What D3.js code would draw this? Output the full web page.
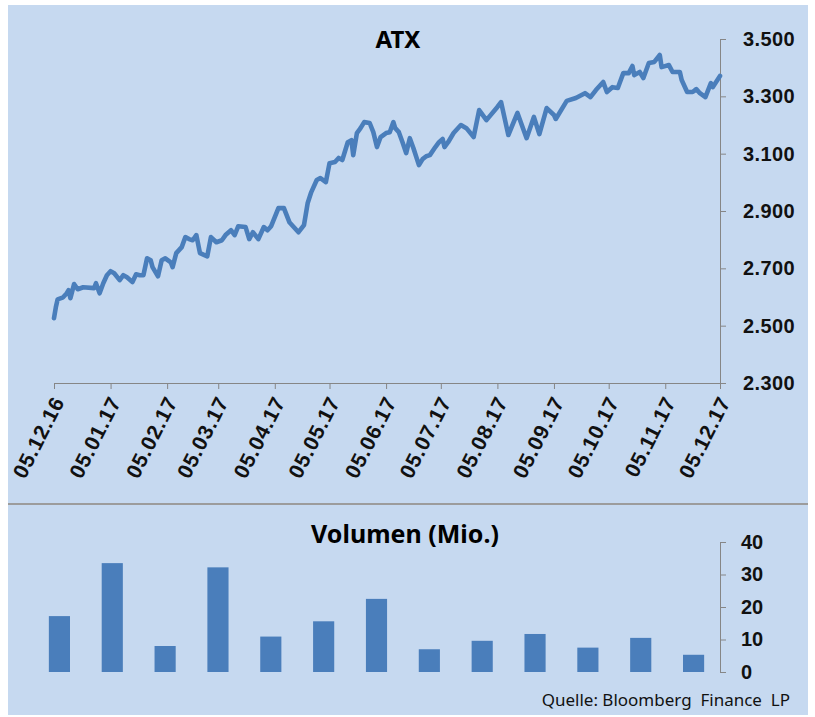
<!DOCTYPE html>
<html>
<head>
<meta charset="utf-8">
<script src="https://cdn.jsdelivr.net/npm/d3@7"></script>
<style>
  html, body { margin: 0; padding: 0; background: #fff; }
  svg { display: block; font-family: "Noto Sans", sans-serif; }
  .axis path, .axis line { stroke: #868686; }
  .axis text { fill: #111; font-weight: bold; }
</style>
</head>
<body>
<div id="chart"></div>
<script>
// ATX daily closes
var atxDates = [
  "2016-12-05","2016-12-06","2016-12-07","2016-12-10","2016-12-12","2016-12-13","2016-12-14","2016-12-16",
  "2016-12-18","2016-12-21","2016-12-27","2016-12-28","2016-12-30","2017-01-01","2017-01-03","2017-01-05",
  "2017-01-07","2017-01-10","2017-01-12","2017-01-14","2017-01-17","2017-01-19","2017-01-21","2017-01-23",
  "2017-01-25","2017-01-27","2017-01-28","2017-01-31","2017-02-02","2017-02-04","2017-02-07","2017-02-08",
  "2017-02-10","2017-02-13","2017-02-15","2017-02-17","2017-02-19","2017-02-21","2017-02-23","2017-02-27",
  "2017-03-01","2017-03-04","2017-03-07","2017-03-09","2017-03-12","2017-03-14","2017-03-16","2017-03-20",
  "2017-03-22","2017-03-24","2017-03-27","2017-03-30","2017-04-01","2017-04-03","2017-04-07","2017-04-10",
  "2017-04-13","2017-04-18","2017-04-21","2017-04-23","2017-04-25","2017-04-28","2017-04-30","2017-05-03",
  "2017-05-05","2017-05-08","2017-05-10","2017-05-12","2017-05-15","2017-05-17","2017-05-18","2017-05-20",
  "2017-05-22","2017-05-24","2017-05-27","2017-05-29","2017-05-31","2017-06-02","2017-06-05","2017-06-07",
  "2017-06-09","2017-06-10","2017-06-12","2017-06-14","2017-06-16","2017-06-18","2017-06-20","2017-06-23",
  "2017-06-25","2017-06-27","2017-06-29","2017-07-02","2017-07-04","2017-07-06","2017-07-07","2017-07-09",
  "2017-07-12","2017-07-14","2017-07-16","2017-07-19","2017-07-23","2017-07-26","2017-07-30","2017-08-05",
  "2017-08-07","2017-08-11","2017-08-16","2017-08-21","2017-08-25","2017-08-28","2017-09-01","2017-09-05",
  "2017-09-06","2017-09-12","2017-09-17","2017-09-22","2017-09-25","2017-09-28","2017-10-02","2017-10-04",
  "2017-10-07","2017-10-10","2017-10-13","2017-10-16","2017-10-18","2017-10-19","2017-10-22","2017-10-24",
  "2017-10-27","2017-10-30","2017-11-02","2017-11-03","2017-11-07","2017-11-09","2017-11-13","2017-11-14",
  "2017-11-17","2017-11-20","2017-11-22","2017-11-24","2017-11-27","2017-11-30","2017-12-01","2017-12-05"
];
var atxValues = [
  2526, 2564, 2592, 2599, 2613, 2624, 2596, 2645,
  2627, 2634, 2631, 2648, 2613, 2648, 2676, 2690,
  2683, 2659, 2676, 2669, 2652, 2679, 2676, 2676,
  2735, 2728, 2704, 2672, 2728, 2735, 2721, 2704,
  2753, 2774, 2809, 2802, 2798, 2816, 2753, 2742,
  2809, 2791, 2798, 2816, 2833, 2816, 2847, 2844,
  2802, 2826, 2802, 2844, 2833, 2847, 2910, 2910,
  2861, 2826, 2851, 2927, 2966, 3008, 3015, 3001,
  3067, 3071, 3085, 3078, 3140, 3147, 3095, 3172,
  3189, 3210, 3207, 3175, 3123, 3158, 3172, 3175,
  3210, 3189, 3175, 3140, 3102, 3154, 3119, 3060,
  3081, 3091, 3095, 3123, 3140, 3151, 3123, 3140,
  3172, 3186, 3200, 3189, 3158, 3252, 3217, 3263,
  3280, 3165, 3242, 3154, 3228, 3168, 3259, 3235,
  3221, 3284, 3294, 3311, 3297, 3322, 3350, 3315,
  3332, 3329, 3381, 3381, 3406, 3374, 3385, 3364,
  3416, 3420, 3444, 3402, 3409, 3385, 3385, 3357,
  3315, 3315, 3325, 3311, 3297, 3346, 3332, 3371
];
var atxTickLabels = ["05.12.16","05.01.17","05.02.17","05.03.17","05.04.17","05.05.17","05.06.17",
  "05.07.17","05.08.17","05.09.17","05.10.17","05.11.17","05.12.17"];
var atxYTicks = [2300, 2500, 2700, 2900, 3100, 3300, 3500];

// monthly volume in millions
var volMonths = ["Dez 16","Jan 17","Feb 17","Mär 17","Apr 17","Mai 17","Jun 17",
  "Jul 17","Aug 17","Sep 17","Okt 17","Nov 17","Dez 17"];
var volValues = [17.2, 33.5, 8.0, 32.2, 10.9, 15.6, 22.5, 7.0, 9.6, 11.7, 7.5, 10.5, 5.3];
var volYTicks = [0, 10, 20, 30, 40];

var W = 815, H = 717;
var bg = "#c6d9f0", blue = "#4a7ebb";
var parseDay = d3.timeParse("%Y-%m-%d");
var parseTick = d3.timeParse("%d.%m.%y");
var de = d3.formatLocale({decimal: ",", thousands: ".", grouping: [3], currency: ["", " €"]});

var svg = d3.select("#chart").append("svg").attr("width", W).attr("height", H);

svg.append("rect").attr("x", 8).attr("y", 5).attr("width", 800).attr("height", 710).attr("fill", bg);
svg.append("line").attr("x1", 8).attr("x2", 808).attr("y1", 504).attr("y2", 504)
  .attr("stroke", "#9c9c9c").attr("stroke-width", 2);

// ---- ATX line ----
var x = d3.scaleTime().domain([parseTick("05.12.16"), parseTick("05.12.17")]).range([54, 720]);
var y = d3.scaleLinear().domain([2300, 3500]).range([383, 39]);

var xAxis = svg.append("g").attr("class", "axis").attr("transform", "translate(0,383)")
  .call(d3.axisBottom(x).tickValues(atxTickLabels.map(parseTick))
    .tickFormat(d3.timeFormat("%d.%m.%y")).tickSize(6).tickSizeOuter(0));
xAxis.selectAll("text")
  .attr("x", 0).attr("y", 0).attr("dy", "0.35em")
  .attr("text-anchor", "end")
  .attr("transform", "translate(4,15) rotate(-63)")
  .style("font-size", "21px").style("letter-spacing", "0.8px");

var yAxis = svg.append("g").attr("class", "axis").attr("transform", "translate(720,0)")
  .call(d3.axisRight(y).tickValues(atxYTicks).tickFormat(de.format(",")).tickSize(6).tickSizeOuter(0));
yAxis.selectAll("text").attr("x", 23).style("font-size", "20px").style("letter-spacing", "0.4px");

var atx = atxDates.map(function (d, i) { return {date: parseDay(d), value: atxValues[i]}; });
svg.append("path").datum(atx)
  .attr("fill", "none").attr("stroke", blue).attr("stroke-width", 4.6)
  .attr("stroke-linejoin", "round").attr("stroke-linecap", "round")
  .attr("d", d3.line().x(function (d) { return x(d.date); }).y(function (d) { return y(d.value); }));

svg.append("text").attr("x", 398).attr("y", 48).attr("text-anchor", "middle")
  .style("font-size", "24px").style("font-weight", "bold").text("ATX");

// ---- volume bars ----
var xb = d3.scaleBand().domain(volMonths).range([33, 720]).paddingInner(0.6).paddingOuter(0.3);
var yb = d3.scaleLinear().domain([0, 40]).range([672, 542]);

svg.append("g").selectAll("rect").data(volValues).enter().append("rect")
  .attr("x", function (d, i) { return xb(volMonths[i]); })
  .attr("y", function (d) { return yb(d); })
  .attr("width", xb.bandwidth())
  .attr("height", function (d) { return yb(0) - yb(d); })
  .attr("fill", blue);

var yAxisB = svg.append("g").attr("class", "axis").attr("transform", "translate(720,0)")
  .call(d3.axisRight(yb).tickValues(volYTicks).tickSize(6).tickSizeOuter(0));
yAxisB.selectAll("text").attr("x", 21).style("font-size", "20px");

svg.append("text").attr("x", 405).attr("y", 543).attr("text-anchor", "middle")
  .style("font-size", "25px").style("font-weight", "bold").text("Volumen (Mio.)");

svg.append("text").attr("x", 790).attr("y", 706).attr("text-anchor", "end")
  .style("font-size", "17px").style("fill", "#111").style("white-space", "pre")
  .text("Quelle: Bloomberg  Finance  LP");
</script>
</body>
</html>
